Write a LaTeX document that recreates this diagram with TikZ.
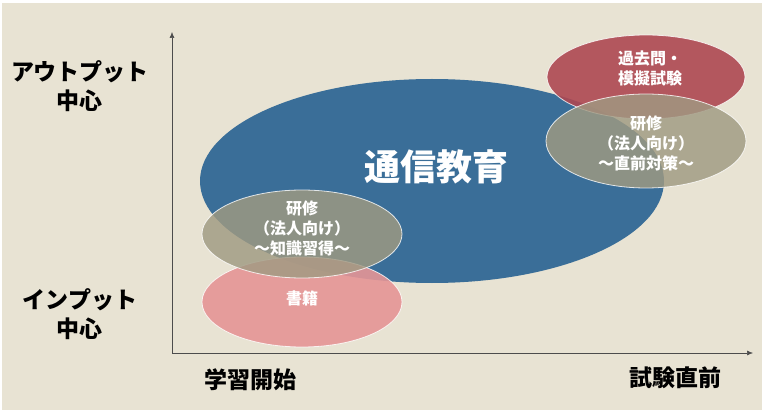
\documentclass[tikz,border=0pt]{standalone}
\usepackage{fontspec}
\setmainfont{Noto Sans CJK JP}
\usepackage{xcolor}
\usetikzlibrary{positioning,arrows.meta,shapes.geometric}

\definecolor{bgbeige}{HTML}{E8E3D3}
\definecolor{tsushin}{HTML}{3A6E98}
\definecolor{kakomon}{HTML}{AE4852}
\definecolor{shoseki}{HTML}{E59596}
\definecolor{kenshu}{HTML}{A09A82}

\begin{document}
\begin{tikzpicture}[
  x=1pt, y=-1pt,
  blob/.style={ellipse, inner sep=0pt, draw=white, draw opacity=0.8, line width=0.8pt},
  lbl/.style={align=center, text=white, font=\fontsize{16}{20}\selectfont\bfseries, inner sep=0pt},
  axlbl/.style={align=center, text=black, font=\fontsize{23}{29}\selectfont\bfseries, inner sep=0pt},
  >={Latex[length=6pt,width=5pt]}, line width=0.6pt
]
\useasboundingbox (0,0) rectangle (769,417);
\fill[white] (0,0) rectangle (769,417);
\fill[bgbeige] (2,3) rectangle (762,410);

% axes
\coordinate (o) at (172,353);
\coordinate (ytop) at (172,32);
\coordinate (xend) at (753,353);
\draw[->, draw=black!70] (o) -- (ytop);
\draw[->, draw=black!70] (o) -- (xend);

% ellipses
\node[ellipse, inner sep=0pt, fill=tsushin, minimum width=464pt, minimum height=204pt] (tsu) at (432,181) {};
\node[blob, fill=kakomon, fill opacity=0.9, minimum width=198pt, minimum height=84pt] (kako) at (646,77) {};
\node[blob, fill=shoseki, fill opacity=0.9, minimum width=200pt, minimum height=90pt] (sho) at (302,302) {};
\node[blob, fill=kenshu, fill opacity=0.82, minimum width=200pt, minimum height=94pt] (kenR) at (646,141) {};
\node[blob, fill=kenshu, fill opacity=0.82, minimum width=200pt, minimum height=88pt] (kenL) at (302,234) {};

% texts
\node[lbl, font=\fontsize{36}{40}\selectfont\bfseries] (tsuT) at (436,167) {通信教育};
\node[lbl] (kakoT) at (650,68) {過去問・\\模擬試験};
\node[lbl] (kenRT) at (646,143) {研修\\（法人向け）\\～直前対策～};
\node[lbl] (kenLT) at (302,228) {研修\\（法人向け）\\～知識習得～};
\node[lbl] (shoT) at (302,298) {書籍};

\node[axlbl] (outp) at (80,86) {アウトプット\\中心};
\node[axlbl] (inp) at (80,314) {インプット\\中心};
\node[axlbl] (start) at (250,380) {学習開始};
\node[axlbl] (exam) at (675,378) {試験直前};
\end{tikzpicture}
\end{document}
